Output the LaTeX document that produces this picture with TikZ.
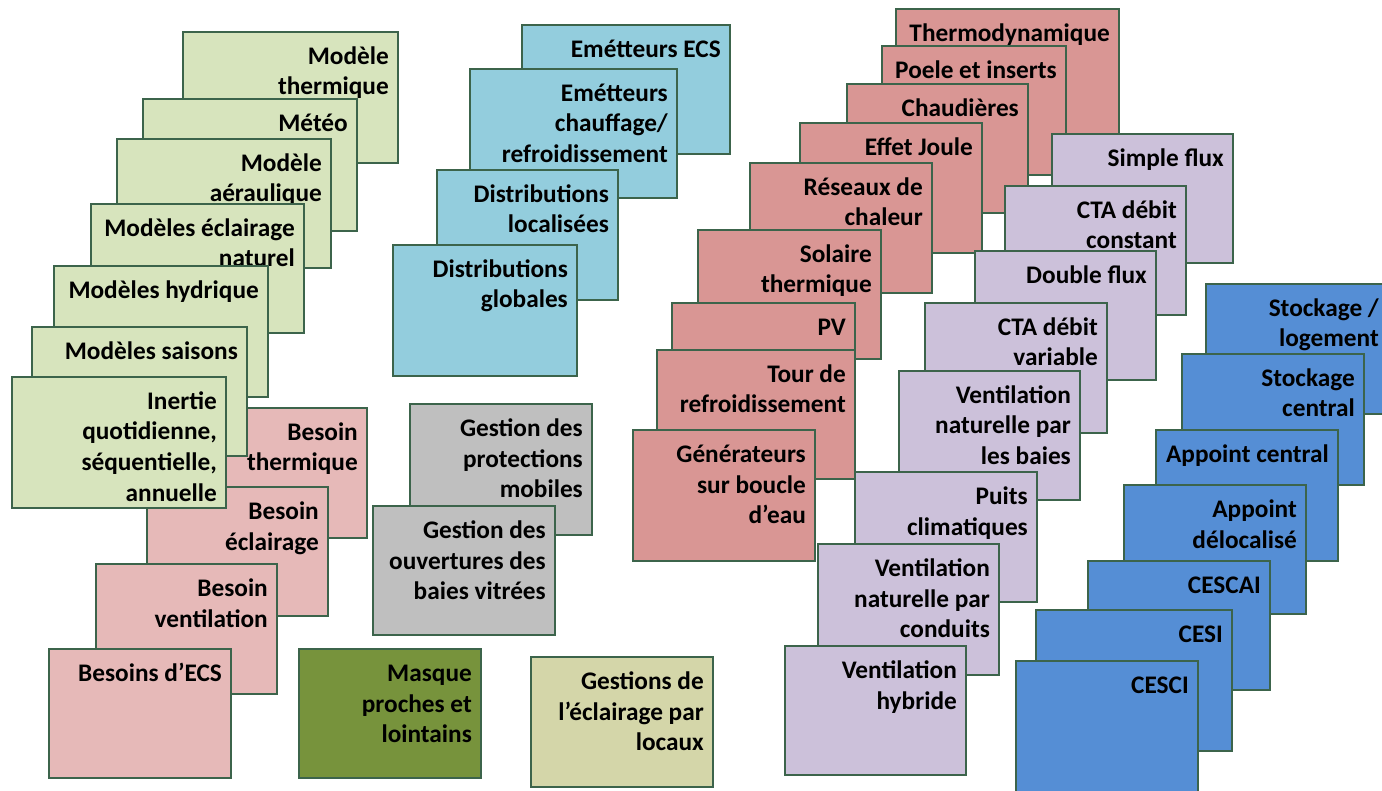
\documentclass[tikz,border=0pt]{standalone}
\usepackage{fontspec}
\setmainfont{Carlito}
\definecolor{greenL}{HTML}{D7E4BD}
\definecolor{pinkL}{HTML}{E6B9B8}
\definecolor{tealC}{HTML}{93CDDD}
\definecolor{grayC}{HTML}{BFBFBF}
\definecolor{oliveC}{HTML}{77933C}
\definecolor{khakiC}{HTML}{D4D6A9}
\definecolor{redC}{HTML}{D99694}
\definecolor{lavC}{HTML}{CCC1DA}
\definecolor{blueC}{HTML}{558ED5}
\definecolor{borderC}{HTML}{3C644B}
\tikzset{
  boxshape/.style={rectangle, draw=borderC, line width=1.5pt, inner sep=0pt, outer sep=0pt, anchor=north west},
  boxlabel/.style={inner sep=0pt, anchor=north east, align=right, text=black, font=\bfseries\fontsize{25.3}{30.8}\selectfont}
}
\newcommand{\mybox}[7]{%
  \node[boxshape, fill=#6, minimum width={(#4-#2)*1pt}, minimum height={(#5-#3)*1pt}] (#1) at (#2,#3) {};
  \node[boxlabel] (#1-t) at ([xshift=-9pt,yshift=-10pt]#1.north east) {\rule{0pt}{22pt}#7};}
\begin{document}
\begin{tikzpicture}[x=1pt,y=-1pt]
\useasboundingbox (0,0) rectangle (1382,791);
\clip (0,0) rectangle (1382,791);
% pink needs
\mybox{bt}{185}{408}{367}{538}{pinkL}{Besoin\\thermique}
\mybox{be}{147}{487}{328}{616}{pinkL}{Besoin\\éclairage}
\mybox{bv}{96}{564}{277}{694}{pinkL}{Besoin\\ventilation}
\mybox{becs}{49}{649}{231}{778}{pinkL}{Besoins d’ECS}
% green models
\mybox{mt}{183}{32}{398}{163}{greenL}{Modèle\\thermique}
\mybox{meteo}{143}{99}{357}{231}{greenL}{Météo}
\mybox{ma}{117}{139}{331}{268}{greenL}{Modèle\\aéraulique}
\mybox{men}{91}{204}{304}{333}{greenL}{Modèles éclairage\\naturel}
\mybox{mh}{54}{266}{268}{397}{greenL}{Modèles hydrique}
\mybox{ms}{32}{327}{247}{456}{greenL}{Modèles saisons}
\mybox{inr}{12}{377}{226}{508}{greenL}{Inertie\\quotidienne,\\séquentielle,\\annuelle}
\mybox{mq}{299}{649}{481}{778}{oliveC}{Masque\\proches et\\lointains}
% teal
\mybox{ecs}{522}{25}{730}{154}{tealC}{Emétteurs ECS}
\mybox{ech}{470}{69}{677}{198}{tealC}{Emétteurs\\chauffage/\\refroidissement}
\mybox{dl}{437}{170}{618}{300}{tealC}{Distributions\\localisées}
\mybox{dg}{393}{245}{577}{376}{tealC}{Distributions\\globales}
% gray
\mybox{gp}{410}{404}{592}{535}{grayC}{Gestion des\\protections\\mobiles}
\mybox{go}{373}{506}{555}{635}{grayC}{Gestion des\\ouvertures des\\baies vitrées}
\mybox{ge}{531}{657}{713}{787}{khakiC}{Gestions de\\l’éclairage par\\locaux}
% red generators
\mybox{th}{896}{9}{1119}{139}{redC}{Thermodynamique}
\mybox{po}{882}{46}{1066}{175}{redC}{Poele et inserts}
\mybox{ch}{847}{84}{1028}{213}{redC}{Chaudières}
\mybox{ej}{800}{123}{982}{253}{redC}{Effet Joule}
\mybox{rc}{750}{163}{932}{293}{redC}{Réseaux de\\chaleur}
\mybox{st}{698}{230}{881}{359}{redC}{Solaire\\thermique}
\mybox{pv}{672}{303}{855}{433}{redC}{PV}
\mybox{tr}{657}{350}{855}{479}{redC}{Tour de\\refroidissement}
\mybox{gb}{633}{430}{815}{561}{redC}{Générateurs\\sur boucle\\d’eau}
% lavender ventilation
\mybox{sf}{1052}{134}{1233}{263}{lavC}{Simple flux}
\mybox{cc}{1005}{186}{1186}{315}{lavC}{CTA débit\\constant}
\mybox{df}{975}{251}{1156}{380}{lavC}{Double flux}
\mybox{cv}{925}{303}{1107}{433}{lavC}{CTA débit\\variable}
\mybox{vb}{899}{371}{1080}{500}{lavC}{Ventilation\\naturelle par\\les baies}
\mybox{pc}{855}{472}{1037}{602}{lavC}{Puits\\climatiques}
\mybox{vc}{818}{544}{999}{675}{lavC}{Ventilation\\naturelle par\\conduits}
\mybox{vh}{785}{646}{966}{775}{lavC}{Ventilation\\hybride}
% blue storage
\mybox{sl}{1206}{284}{1388}{414}{blueC}{Stockage /\\logement}
\mybox{sc}{1182}{354}{1364}{485}{blueC}{Stockage\\central}
\mybox{ac}{1156}{430}{1338}{561}{blueC}{Appoint central}
\mybox{ad}{1124}{485}{1306}{614}{blueC}{Appoint\\délocalisé}
\mybox{cescai}{1088}{561}{1270}{690}{blueC}{CESCAI}
\mybox{cesi}{1036}{610}{1232}{751}{blueC}{CESI}
\mybox{cesci}{1016}{661}{1198}{795}{blueC}{CESCI}
\end{tikzpicture}
\end{document}
